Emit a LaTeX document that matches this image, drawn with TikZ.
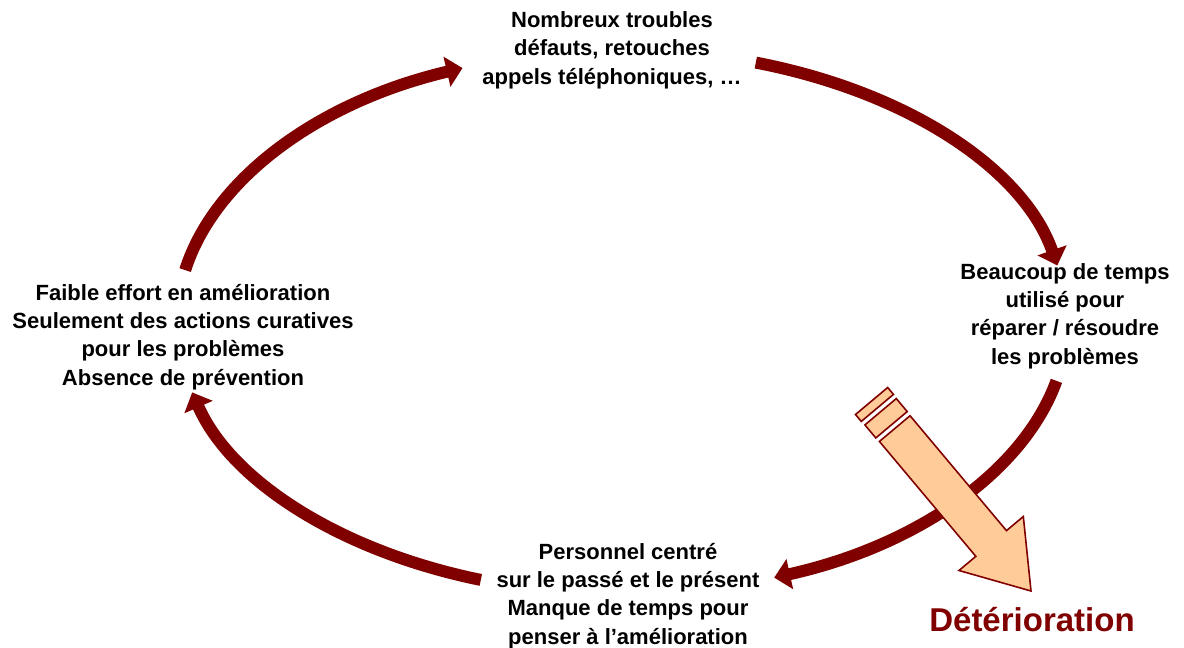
\documentclass[tikz,border=0pt]{standalone}
\usepackage{fontspec}
\setmainfont{Liberation Sans}
\usepackage{tikz}
\usetikzlibrary{arrows.meta, positioning}
\definecolor{cyclered}{RGB}{128,0,0}
\definecolor{peach}{RGB}{255,204,153}
\tikzset{
x=0.5pt, y=0.5pt, % one unit is one pixel of the drawing
cycle arrow/.style={line width=6pt, draw=cyclered, -{Triangle[length=8pt, width=15pt]}}, % the thick arcs of the circle
cycle text/.style={align=center, font=\fontsize{11}{14.2}\selectfont\bfseries, inner sep=0pt}, % the four steps
}
\tikzset{
  declin/.style={draw=cyclered, line width=0.8pt, fill=peach, line join=miter}
}

\begin{document}
\begin{tikzpicture}
      \useasboundingbox (0,0) rectangle (1184,648);
      \coordinate (c) at (622,326);

      % start points of the arcs
      \coordinate (a1) at ([shift={(169:445 and 272)}]c);
      \coordinate (a2) at ([shift={(72.5:445 and 272)}]c);
      \coordinate (a3) at ([shift={(-12.5:445 and 272)}]c);
      \coordinate (a4) at ([shift={(-108.5:445 and 272)}]c);

      \draw[cycle arrow] (a1) arc[start angle=169, end angle=111, x radius=445, y radius=272];
      \draw[cycle arrow] (a2) arc[start angle=72.5, end angle=12, x radius=445, y radius=272];
      \draw[cycle arrow] (a3) arc[start angle=-12.5, end angle=-70, x radius=445, y radius=272];
      \draw[cycle arrow] (a4) arc[start angle=-108.5, end angle=-165, x radius=445, y radius=272];

      % the big arrow
      \coordinate (tip) at (1031,57);
      \begin{scope}[shift={(tip)}, rotate=-50]
        \draw[declin] (0,0) -- (-62,42) -- (-62,20) -- (-212,20) -- (-212,-20)
          -- (-62,-20) -- (-62,-42) -- cycle;
        \draw[declin] (-217,20.5) rectangle (-234,-20.5);
        \draw[declin] (-239,21) rectangle (-248,-21);
      \end{scope}

      \node[cycle text] (troubles) at (612,598) {Nombreux troubles\\d\'efauts, retouches\\appels t\'el\'ephoniques, \dots};
      \node[cycle text] (temps) at (1065,332) {Beaucoup de temps\\utilis\'e pour\\r\'eparer / r\'esoudre\\les probl\`emes};
      \node[cycle text] (passe) at (628,52) {Personnel centr\'e\\sur le pass\'e et le pr\'esent\\Manque de temps pour\\penser \`a l’am\'elioration};
      \node[cycle text] (effort) at (183,311) {Faible effort en am\'elioration\\Seulement des actions curatives\\pour les probl\`emes\\Absence de pr\'evention};
      \node[font=\fontsize{16.5}{20}\selectfont\bfseries, text=cyclered, inner sep=0pt] (deterioration) at (1032,28) {D\'et\'erioration};
    \end{tikzpicture}
\end{document}
